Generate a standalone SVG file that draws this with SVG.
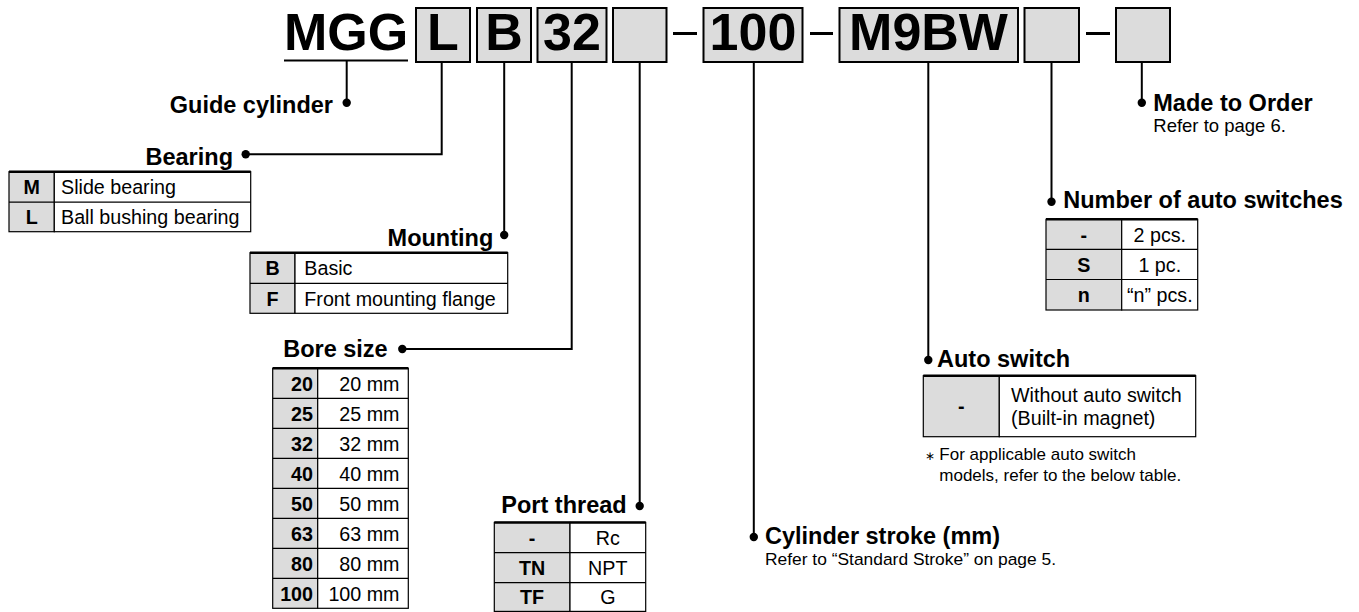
<svg xmlns="http://www.w3.org/2000/svg" width="1359" height="612" viewBox="0 0 1359 612">
<style>
.code{font-family:"Liberation Sans",Arial,sans-serif;font-weight:bold;font-size:52px;fill:#000}
.box{fill:#dcdcdc;stroke:#000;stroke-width:2}
.hd{font-family:"Liberation Sans",Arial,sans-serif;font-weight:bold;font-size:23.5px;fill:#000}
.sm{font-family:"Liberation Sans",Arial,sans-serif;font-size:18.5px;fill:#000}
.sm2{font-family:"Liberation Sans",Arial,sans-serif;font-size:17.4px;fill:#000}
.fn{font-family:"Liberation Sans",Arial,sans-serif;font-size:17px;fill:#000}
.ast{font-family:"Liberation Sans",Arial,sans-serif;font-size:12px;fill:#000}
.tk{font-family:"Liberation Sans",Arial,sans-serif;font-weight:bold;font-size:19.7px;fill:#000}
.tv{font-family:"Liberation Sans",Arial,sans-serif;font-size:19.7px;fill:#000}
.c{text-anchor:middle}
.e{text-anchor:end}
.conn{fill:none;stroke:#000;stroke-width:2}
.dot{fill:#000}
.cell{fill:#fff;stroke:#000;stroke-width:1.2}
.key{fill:#dcdcdc;stroke:#000;stroke-width:1.2}
.top{stroke:#000;stroke-width:2.5}
.sep{stroke:#000;stroke-width:1.2}
.dash{stroke:#000;stroke-width:3}
</style>

<g id="code">
  <text class="code" x="284" y="50">MGG</text>
  <line x1="284" y1="60.5" x2="408" y2="60.5" stroke="#000" stroke-width="2.2"/>
  <rect class="box" x="416" y="8" width="54" height="54"/>
  <text class="code c" x="443" y="50">L</text>
  <rect class="box" x="477" y="8" width="54" height="54"/>
  <text class="code c" x="504" y="50">B</text>
  <rect class="box" x="537.5" y="8" width="69" height="54"/>
  <text class="code c" x="572" y="50">32</text>
  <rect class="box" x="613" y="8" width="53.5" height="54"/>
  <line class="dash" x1="673" y1="33.5" x2="697" y2="33.5"/>
  <rect class="box" x="703.5" y="8" width="99" height="54"/>
  <text class="code c" x="753" y="50">100</text>
  <line class="dash" x1="810" y1="33.5" x2="833" y2="33.5"/>
  <rect class="box" x="839.5" y="8" width="178.5" height="54"/>
  <text class="code c" x="928.5" y="50">M9BW</text>
  <rect class="box" x="1024.5" y="8" width="54.5" height="54"/>
  <line class="dash" x1="1086" y1="33.5" x2="1110" y2="33.5"/>
  <rect class="box" x="1116" y="8" width="54" height="54"/>
</g>

<g id="connectors">
  <path class="conn" d="M346.7 61 V102.7"/>
  <circle class="dot" cx="346.7" cy="102.7" r="4.2"/>
  <path class="conn" d="M441.7 62 V154.3 H245.7"/>
  <circle class="dot" cx="245.7" cy="154.3" r="4.2"/>
  <path class="conn" d="M504.2 62 V235"/>
  <circle class="dot" cx="504.2" cy="235" r="4.2"/>
  <path class="conn" d="M571.7 62 V349 H402.3"/>
  <circle class="dot" cx="402.3" cy="349" r="4.2"/>
  <path class="conn" d="M639.7 62 V506"/>
  <circle class="dot" cx="639.7" cy="506" r="4.2"/>
  <path class="conn" d="M753.8 62 V537"/>
  <circle class="dot" cx="753.8" cy="537" r="4.2"/>
  <path class="conn" d="M928.3 62 V360"/>
  <circle class="dot" cx="928.3" cy="360" r="4.2"/>
  <path class="conn" d="M1051.5 62 V201.7"/>
  <circle class="dot" cx="1051.5" cy="201.7" r="4.2"/>
  <path class="conn" d="M1141.8 62 V102.7"/>
  <circle class="dot" cx="1141.8" cy="102.7" r="4.2"/>
</g>

<g id="guide-cylinder">
  <text class="hd e" x="333" y="113">Guide cylinder</text>
</g>

<g id="bearing">
  <text class="hd e" x="233" y="165">Bearing</text>
  <rect class="key" x="9" y="171.7" width="45.3" height="60"/>
  <rect class="cell" x="54.3" y="171.7" width="196.4" height="60"/>
  <line class="sep" x1="9" y1="202.2" x2="250.7" y2="202.2"/>
  <line class="top" x1="9" y1="171.7" x2="250.7" y2="171.7"/>
  <text class="tk c" x="31.7" y="194">M</text>
  <text class="tv" x="61" y="194">Slide bearing</text>
  <text class="tk c" x="31.7" y="224">L</text>
  <text class="tv" x="61" y="224">Ball bushing bearing</text>
</g>

<g id="mounting">
  <text class="hd e" x="493.3" y="246">Mounting</text>
  <rect class="key" x="250" y="252.7" width="45" height="60.6"/>
  <rect class="cell" x="295" y="252.7" width="212.7" height="60.6"/>
  <line class="sep" x1="250" y1="283.3" x2="507.7" y2="283.3"/>
  <line class="top" x1="250" y1="252.7" x2="507.7" y2="252.7"/>
  <text class="tk c" x="272.5" y="275">B</text>
  <text class="tv" x="304.3" y="275">Basic</text>
  <text class="tk c" x="272.5" y="305.5">F</text>
  <text class="tv" x="304.3" y="305.5">Front mounting flange</text>
</g>

<g id="bore-size">
  <text class="hd e" x="387.7" y="357">Bore size</text>
  <rect class="key" x="272.7" y="368.3" width="45" height="240"/>
  <rect class="cell" x="317.7" y="368.3" width="90.6" height="240"/>
  <line class="sep" x1="272.7" y1="398.3" x2="408.3" y2="398.3"/>
  <line class="sep" x1="272.7" y1="428.3" x2="408.3" y2="428.3"/>
  <line class="sep" x1="272.7" y1="458.3" x2="408.3" y2="458.3"/>
  <line class="sep" x1="272.7" y1="488.3" x2="408.3" y2="488.3"/>
  <line class="sep" x1="272.7" y1="518.3" x2="408.3" y2="518.3"/>
  <line class="sep" x1="272.7" y1="548.3" x2="408.3" y2="548.3"/>
  <line class="sep" x1="272.7" y1="578.3" x2="408.3" y2="578.3"/>
  <line class="top" x1="272.7" y1="368.3" x2="408.3" y2="368.3"/>
  <text class="tk e" x="313" y="390.5">20</text><text class="tv e" x="399.5" y="390.5">20 mm</text>
  <text class="tk e" x="313" y="420.5">25</text><text class="tv e" x="399.5" y="420.5">25 mm</text>
  <text class="tk e" x="313" y="450.5">32</text><text class="tv e" x="399.5" y="450.5">32 mm</text>
  <text class="tk e" x="313" y="480.5">40</text><text class="tv e" x="399.5" y="480.5">40 mm</text>
  <text class="tk e" x="313" y="510.5">50</text><text class="tv e" x="399.5" y="510.5">50 mm</text>
  <text class="tk e" x="313" y="540.5">63</text><text class="tv e" x="399.5" y="540.5">63 mm</text>
  <text class="tk e" x="313" y="570.5">80</text><text class="tv e" x="399.5" y="570.5">80 mm</text>
  <text class="tk e" x="313" y="600.5">100</text><text class="tv e" x="399.5" y="600.5">100 mm</text>
</g>

<g id="port-thread">
  <text class="hd e" x="626.7" y="513">Port thread</text>
  <rect class="key" x="494.3" y="522.4" width="75.7" height="89"/>
  <rect class="cell" x="570" y="522.4" width="75.7" height="89"/>
  <line class="sep" x1="494.3" y1="552.6" x2="645.7" y2="552.6"/>
  <line class="sep" x1="494.3" y1="582.6" x2="645.7" y2="582.6"/>
  <line class="top" x1="494.3" y1="522.4" x2="645.7" y2="522.4"/>
  <text class="tk c" x="532" y="544.5">-</text>
  <text class="tv c" x="607.8" y="544.5">Rc</text>
  <text class="tk c" x="532" y="574.5">TN</text>
  <text class="tv c" x="607.8" y="574.5">NPT</text>
  <text class="tk c" x="532" y="604">TF</text>
  <text class="tv c" x="607.8" y="604">G</text>
</g>

<g id="cylinder-stroke">
  <text class="hd" x="765" y="544">Cylinder stroke (mm)</text>
  <text class="sm2" x="765" y="565">Refer to “Standard Stroke” on page 5.</text>
</g>

<g id="auto-switch">
  <text class="hd" x="937" y="367">Auto switch</text>
  <rect class="key" x="923.3" y="375.7" width="76" height="61"/>
  <rect class="cell" x="999.3" y="375.7" width="196.4" height="61"/>
  <line class="top" x1="923.3" y1="375.7" x2="1195.7" y2="375.7"/>
  <text class="tk c" x="961.3" y="413">-</text>
  <text class="tv" x="1011" y="401.7">Without auto switch</text>
  <text class="tv" x="1011" y="425">(Built-in magnet)</text>
  <text class="ast" x="925" y="460">∗</text>
  <text class="fn" x="939.3" y="460">For applicable auto switch</text>
  <text class="fn" x="939.3" y="481">models, refer to the below table.</text>
</g>

<g id="number-of-auto-switches">
  <text class="hd" x="1063.3" y="208.3">Number of auto switches</text>
  <rect class="key" x="1046" y="219.3" width="75.7" height="90.7"/>
  <rect class="cell" x="1121.7" y="219.3" width="76" height="90.7"/>
  <line class="sep" x1="1046" y1="249.3" x2="1197.7" y2="249.3"/>
  <line class="sep" x1="1046" y1="279.5" x2="1197.7" y2="279.5"/>
  <line class="top" x1="1046" y1="219.3" x2="1197.7" y2="219.3"/>
  <text class="tk c" x="1083.8" y="241.5">-</text>
  <text class="tv c" x="1159.8" y="241.5">2 pcs.</text>
  <text class="tk c" x="1083.8" y="271.5">S</text>
  <text class="tv c" x="1159.8" y="271.5">1 pc.</text>
  <text class="tk c" x="1083.8" y="302">n</text>
  <text class="tv c" x="1159.8" y="302">“n” pcs.</text>
</g>

<g id="made-to-order">
  <text class="hd" x="1153.3" y="110.7">Made to Order</text>
  <text class="sm" x="1153.3" y="131.7">Refer to page 6.</text>
</g>
</svg>
